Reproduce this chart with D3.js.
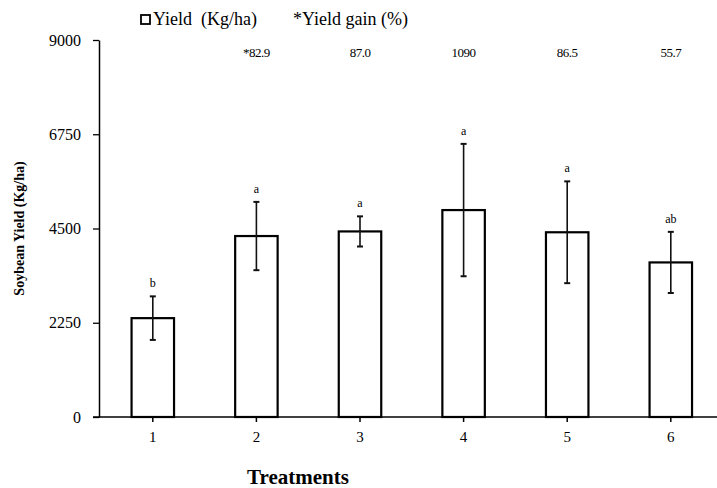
<!DOCTYPE html>
<html>
<head>
<meta charset="utf-8">
<script src="https://cdn.jsdelivr.net/npm/d3@7"></script>
<style>
  body { margin: 0; background: #fff; }
  svg text { font-family: "Liberation Serif", "Times New Roman", serif; }
</style>
</head>
<body>
<div class="canvas"></div>
<script>
// data
const treatments = ['1', '2', '3', '4', '5', '6'];
const yieldMean = [2360, 4320, 4430, 4940, 4410, 3690];
const yieldErr = [520, 815, 360, 1580, 1215, 730];
const letters = ['b', 'a', 'a', 'a', 'a', 'ab'];
const gains = ['', '*82.9', '87.0', '1090', '86.5', '55.7'];
const yTicks = [0, 2250, 4500, 6750, 9000];

const dims = {width: 717, height: 488};
const margin = {left: 99, top: 40, bottom: 71};

const svg = d3.select('.canvas')
  .append('svg')
  .attr('width', dims.width)
  .attr('height', dims.height);

const x = d3.scaleBand()
  .domain(treatments)
  .range([margin.left + 2, margin.left + 2 + 103.6 * 6])
  .paddingInner(0.59)
  .paddingOuter(0.295);

const y = d3.scaleLinear()
  .domain([0, 9000])
  .range([dims.height - margin.bottom, margin.top]);

const graph = svg.append('g');

// bars
graph.selectAll('rect.bar')
  .data(yieldMean)
  .enter()
  .append('rect')
  .attr('class', 'bar')
  .attr('x', (d, i) => x(treatments[i]))
  .attr('y', d => y(d))
  .attr('width', x.bandwidth())
  .attr('height', d => y(0) - y(d))
  .attr('fill', '#fff')
  .attr('stroke', '#000')
  .attr('stroke-width', 2.2);

// error bars
const cx = i => x(treatments[i]) + x.bandwidth() / 2;
const err = graph.selectAll('g.err')
  .data(yieldMean)
  .enter()
  .append('g')
  .attr('class', 'err')
  .attr('stroke', '#111')
  .attr('stroke-width', 1.6);

err.append('line')
  .attr('x1', (d, i) => cx(i)).attr('x2', (d, i) => cx(i))
  .attr('y1', (d, i) => y(d + yieldErr[i]))
  .attr('y2', (d, i) => y(d - yieldErr[i]));
err.append('line')
  .attr('x1', (d, i) => cx(i) - 3).attr('x2', (d, i) => cx(i) + 3)
  .attr('y1', (d, i) => y(d + yieldErr[i]))
  .attr('y2', (d, i) => y(d + yieldErr[i]))
  .attr('stroke-width', 2);
err.append('line')
  .attr('x1', (d, i) => cx(i) - 3).attr('x2', (d, i) => cx(i) + 3)
  .attr('y1', (d, i) => y(d - yieldErr[i]))
  .attr('y2', (d, i) => y(d - yieldErr[i]))
  .attr('stroke-width', 2);

// significance letters
graph.selectAll('text.letter')
  .data(letters)
  .enter()
  .append('text')
  .attr('class', 'letter')
  .attr('x', (d, i) => cx(i))
  .attr('y', (d, i) => y(yieldMean[i] + yieldErr[i]) - 9)
  .attr('text-anchor', 'middle')
  .attr('font-size', 12)
  .text(d => d);

// yield gain labels
graph.selectAll('text.gain')
  .data(gains)
  .enter()
  .append('text')
  .attr('class', 'gain')
  .attr('x', (d, i) => cx(i))
  .attr('y', 57)
  .attr('text-anchor', 'middle')
  .attr('font-size', 13)
  .attr('letter-spacing', -0.5)
  .text(d => d);

// axes
const yAxis = svg.append('g')
  .attr('transform', `translate(${margin.left},0)`)
  .call(d3.axisLeft(y).tickValues(yTicks).tickFormat(d3.format('d'))
    .tickSize(6).tickSizeOuter(0).tickPadding(12));
yAxis.select('.domain').attr('stroke-width', 1.5);
yAxis.selectAll('line').attr('stroke-width', 1.3);
yAxis.selectAll('text').attr('font-size', 16);

const xAxis = svg.append('g')
  .attr('transform', `translate(0,${y(0)})`)
  .call(d3.axisBottom(x).tickSize(5).tickSizeOuter(0).tickPadding(9));
xAxis.select('.domain').attr('d', `M${margin.left - 6},0H${dims.width}`).attr('stroke-width', 1.5);
xAxis.selectAll('line').attr('stroke-width', 1.5);
xAxis.selectAll('text').attr('font-size', 15);

// axis titles
svg.append('text')
  .attr('transform', `translate(24,${(y(0) + y(9000)) / 2}) rotate(-90)`)
  .attr('text-anchor', 'middle')
  .attr('font-size', 14)
  .attr('font-weight', 'bold')
  .text('Soybean Yield (Kg/ha)');

svg.append('text')
  .attr('x', 298)
  .attr('y', 484)
  .attr('text-anchor', 'middle')
  .attr('font-size', 21)
  .attr('font-weight', 'bold')
  .text('Treatments');

// legend
const legendGroup = svg.append('g');
legendGroup.append('rect')
  .attr('x', 141).attr('y', 15)
  .attr('width', 9).attr('height', 9)
  .attr('fill', '#fff').attr('stroke', '#000').attr('stroke-width', 1.8);
legendGroup.append('text')
  .attr('x', 153).attr('y', 25)
  .attr('font-size', 18)
  .attr('xml:space', 'preserve')
  .text('Yield  (Kg/ha)');
legendGroup.append('text')
  .attr('x', 293).attr('y', 25)
  .attr('font-size', 18)
  .text('*Yield gain (%)');
</script>
</body>
</html>
